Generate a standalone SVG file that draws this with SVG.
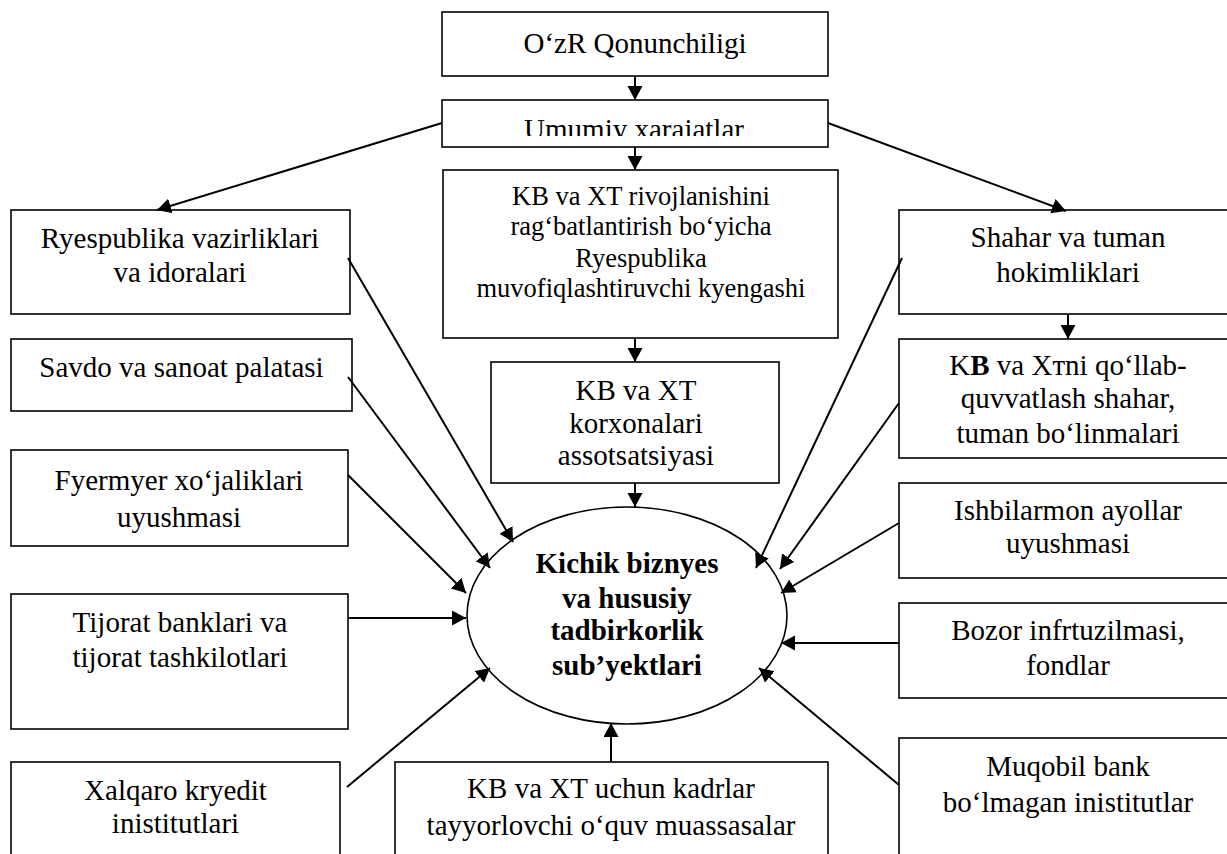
<svg xmlns="http://www.w3.org/2000/svg" width="1227" height="854" viewBox="0 0 1227 854">
<style>
.box{fill:#fff;stroke:#000;stroke-width:1.6}
text{font-family:'Liberation Serif','Times New Roman',Tinos,'DejaVu Serif',serif;font-size:29px;fill:#000;text-anchor:middle}
.s{font-size:26.5px}
.b{font-weight:bold}
.c{stroke:#000;stroke-width:2;fill:none;marker-end:url(#ah)}
</style>
<defs>
<marker id="ah" markerUnits="userSpaceOnUse" markerWidth="16" markerHeight="16" refX="14" refY="7.5" orient="auto">
<path d="M0,0 L14,7.5 L0,15 z" fill="#000"/>
</marker>
<clipPath id="clipU"><rect x="442" y="100" width="386" height="36"/></clipPath>
</defs>
<rect width="1227" height="854" fill="#fff"/>

<g id="n-qonun">
<rect class="box" x="442" y="12" width="386" height="64"/>
<text font-family="Liberation Serif, serif" x="635" y="53">O‘zR Qonunchiligi</text>
</g>
<g id="n-umumiy">
<rect class="box" x="442" y="100" width="386" height="47"/>
<text font-family="Liberation Serif, serif" x="634" y="139" clip-path="url(#clipU)">Umumiy xarajatlar</text>
</g>
<g id="n-kengash">
<rect class="box" x="443" y="170" width="395" height="168"/>
<text font-family="Liberation Serif, serif" class="s" x="641"><tspan x="641" y="205">KB va XT rivojlanishini</tspan><tspan x="641" y="235">rag‘batlantirish bo‘yicha</tspan><tspan x="641" y="266.5">Ryespublika</tspan><tspan x="641" y="297">muvofiqlashtiruvchi kyengashi</tspan></text>
</g>
<g id="n-assots">
<rect class="box" x="491" y="362" width="288" height="121"/>
<text font-family="Liberation Serif, serif" x="636"><tspan x="636" y="400">KB va XT</tspan><tspan x="636" y="433">korxonalari</tspan><tspan x="636" y="465">assotsatsiyasi</tspan></text>
</g>
<g id="n-center">
<ellipse cx="627" cy="615.5" rx="160" ry="108.5" fill="#fff" stroke="#000" stroke-width="1.6"/>
<text font-family="Liberation Serif, serif" class="b" x="627"><tspan x="627" y="573">Kichik biznyes</tspan><tspan x="627" y="608">va hususiy</tspan><tspan x="627" y="640">tadbirkorlik</tspan><tspan x="627" y="675">sub’yektlari</tspan></text>
</g>
<g id="n-vazir">
<rect class="box" x="11" y="210" width="339" height="104"/>
<text font-family="Liberation Serif, serif" x="180"><tspan x="180" y="248">Ryespublika vazirliklari</tspan><tspan x="180" y="282">va idoralari</tspan></text>
</g>
<g id="n-savdo">
<rect class="box" x="11" y="339" width="341" height="72"/>
<text font-family="Liberation Serif, serif" x="181.5" y="377">Savdo va sanoat palatasi</text>
</g>
<g id="n-fermer">
<rect class="box" x="11" y="450" width="337" height="96"/>
<text font-family="Liberation Serif, serif" x="179"><tspan x="179" y="490">Fyermyer xo‘jaliklari</tspan><tspan x="179" y="527">uyushmasi</tspan></text>
</g>
<g id="n-tijorat">
<rect class="box" x="11" y="594" width="337" height="135"/>
<text font-family="Liberation Serif, serif" x="180"><tspan x="180" y="632">Tijorat banklari va</tspan><tspan x="180" y="667">tijorat tashkilotlari</tspan></text>
</g>
<g id="n-xalqaro">
<rect class="box" x="11" y="762" width="329" height="110"/>
<text font-family="Liberation Serif, serif" x="175.5"><tspan x="175.5" y="800">Xalqaro kryedit</tspan><tspan x="175.5" y="833">inistitutlari</tspan></text>
</g>
<g id="n-kadr">
<rect class="box" x="395" y="762" width="433" height="110"/>
<text font-family="Liberation Serif, serif" x="611"><tspan x="611" y="798">KB va XT uchun kadrlar</tspan><tspan x="611" y="835">tayyorlovchi o‘quv muassasalar</tspan></text>
</g>
<g id="n-shahar">
<rect class="box" x="899" y="210" width="338" height="104"/>
<text font-family="Liberation Serif, serif" x="1068"><tspan x="1068" y="247">Shahar va tuman</tspan><tspan x="1068" y="282">hokimliklari</tspan></text>
</g>
<g id="n-bolinma">
<rect class="box" x="899" y="339" width="338" height="119"/>
<text font-family="Liberation Serif, serif" x="1068"><tspan x="1068" y="375">K<tspan class="b">B</tspan> va Xтni qo‘llab-</tspan><tspan x="1068" y="408">quvvatlash shahar,</tspan><tspan x="1068" y="443">tuman bo‘linmalari</tspan></text>
</g>
<g id="n-ayollar">
<rect class="box" x="899" y="483" width="338" height="95"/>
<text font-family="Liberation Serif, serif" x="1068"><tspan x="1068" y="520">Ishbilarmon ayollar</tspan><tspan x="1068" y="553">uyushmasi</tspan></text>
</g>
<g id="n-bozor">
<rect class="box" x="899" y="603" width="338" height="95"/>
<text font-family="Liberation Serif, serif" x="1068"><tspan x="1068" y="640">Bozor infrtuzilmasi,</tspan><tspan x="1068" y="675">fondlar</tspan></text>
</g>
<g id="n-muqobil">
<rect class="box" x="899" y="738" width="338" height="134"/>
<text font-family="Liberation Serif, serif" x="1068"><tspan x="1068" y="776">Muqobil bank</tspan><tspan x="1068" y="812">bo‘lmagan inistitutlar</tspan></text>
</g>

<g id="connectors">
<line class="c" x1="635" y1="76" x2="635" y2="100"/>
<line class="c" x1="635" y1="147" x2="635" y2="170"/>
<line class="c" x1="635" y1="338" x2="635" y2="362"/>
<line class="c" x1="635" y1="483" x2="635" y2="507"/>
<line class="c" x1="1068" y1="314" x2="1068" y2="339"/>
<line class="c" x1="442" y1="123" x2="157" y2="210"/>
<line class="c" x1="828" y1="123" x2="1066" y2="211"/>
<line class="c" x1="348" y1="258" x2="513" y2="542"/>
<line class="c" x1="348" y1="377" x2="490" y2="568"/>
<line class="c" x1="348" y1="475" x2="466" y2="593"/>
<line class="c" x1="348" y1="618" x2="466" y2="618"/>
<line class="c" x1="347" y1="787" x2="490" y2="668"/>
<line class="c" x1="611" y1="762" x2="611" y2="723"/>
<line class="c" x1="902" y1="258" x2="756" y2="568"/>
<line class="c" x1="899" y1="403" x2="780" y2="569"/>
<line class="c" x1="899" y1="523" x2="781" y2="593"/>
<line class="c" x1="899" y1="643" x2="781" y2="643"/>
<line class="c" x1="899" y1="785" x2="759" y2="668"/>
</g>
</svg>
